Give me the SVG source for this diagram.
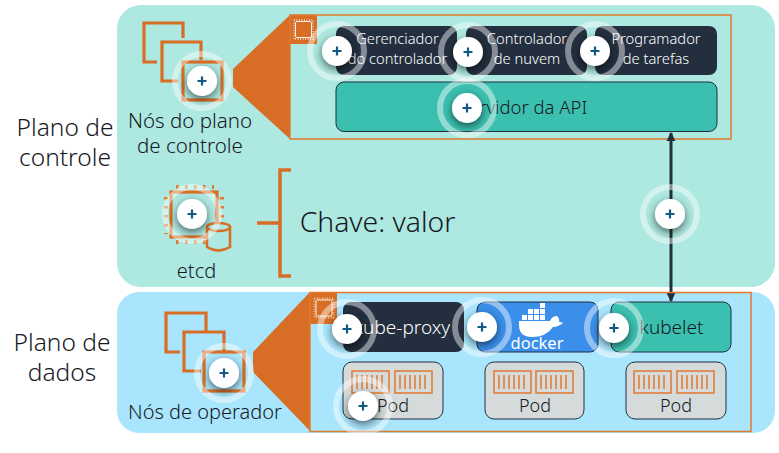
<svg xmlns="http://www.w3.org/2000/svg" xmlns:xlink="http://www.w3.org/1999/xlink" width="779" height="453" viewBox="0 0 779 453">
<style>
text{font-family:"Noto Sans","Open Sans","Liberation Sans",sans-serif;font-weight:300;fill:#16191f;text-anchor:middle}
.w{fill:#fff}
.ic{fill:none;stroke:#d86e26;stroke-width:3.2}
.fr{fill:none;stroke:#e07a2e;stroke-width:1.5}
.or{fill:#d86e26}
.dk{fill:#232f3e}
.tb{fill:#3bc0b0;stroke:#232f3e;stroke-width:1}
.pod{fill:#d5dbdb;stroke:#232f3e;stroke-width:1}
.ct{fill:none;stroke:#e07a2e;stroke-width:1.5}
.cl{fill:none;stroke:#e07a2e;stroke-width:4;stroke-dasharray:2.500 6.500}
.chip{fill:none;stroke:#fff;stroke-opacity:.9;stroke-width:1}
.tick{fill:none;stroke:#fff;stroke-opacity:.75;stroke-width:1.8;stroke-dasharray:.8 1.7}
</style>
<defs>
<filter id="sh" x="-80%" y="-80%" width="260%" height="260%"><feDropShadow dx="0" dy="3" stdDeviation="4" flood-color="#000" flood-opacity=".6"/></filter>
<marker id="ah" viewBox="0 0 10 10" refX="9" refY="5" markerWidth="3" markerHeight="3.200" orient="auto-start-reverse"><path d="M0 0L10 5L0 10Z" fill="#232f3e"/></marker>
<g id="hs">
<circle r="27" fill="none" stroke="#fff" stroke-opacity=".45" stroke-width="6"/>
<circle r="15" fill="#fff" filter="url(#sh)"/>
<path d="M-4.500 0H4.500M0-4.500V4.500" stroke="#0f5a85" stroke-width="2.200"/>
</g>
<g id="chipi">
<rect x="-8" y="-8" width="16" height="16" rx="1.500" class="chip"/>
<rect x="-9.500" y="-9.500" width="19" height="19" class="tick"/>
</g>
<g id="cont">
<rect x="0" y="0" width="37" height="22" class="ct"/>
<path d="M5 4V18M10 4V18M15 4V18M20 4V18M25 4V18M30 4V18" stroke="#e07a2e" stroke-width="1.500"/>
</g>
</defs>

<g id="panels">
<rect x="117" y="5" width="658" height="282" rx="24" fill="#ade8e1"/>
<rect x="117" y="292" width="658" height="141" rx="22" fill="#a9e6fd"/>
</g>

<g id="label-plano-controle"><text x="65" y="136" font-size="24.500">Plano de</text><text x="65" y="166" font-size="24.500">controle</text></g>
<g id="label-plano-dados"><text x="62" y="351" font-size="24.500">Plano de</text><text x="62" y="381" font-size="24.500">dados</text></g>

<g id="zoom-control">
<path class="or" d="M233 69L290 15V139L233 87Z"/>
<rect class="or" x="290" y="15" width="27" height="29"/>
<rect class="fr" x="290" y="15" width="441" height="124"/>
<use xlink:href="#chipi" href="#chipi" x="303.500" y="29.500"/>
</g>

<g id="control-nodes">
<path class="ic" d="M157 62H144V23H183V38"/>
<path class="ic" d="M178 81H162V42H201V60"/>
<rect class="ic" x="183" y="62" width="39" height="38"/>
<text x="190" y="128" font-size="20.500">Nós do plano</text>
<text x="190" y="153" font-size="20.500">de controle</text>
</g>

<g id="etcd">
<rect class="ic" x="171" y="192" width="46" height="45"/>
<path class="cl" d="M176 187H214M176 242H214M166 197V234M222 197V218"/>
<path d="M207 227V247Q218 254 230 247V227Z" fill="#ade8e1" stroke="#d86e26" stroke-width="2.500"/>
<ellipse cx="218.500" cy="227" rx="11.500" ry="4" fill="#ade8e1" stroke="#d86e26" stroke-width="2.500"/>
<text x="196.500" y="278" font-size="20">etcd</text>
</g>

<g id="chave-valor">
<path d="M291 170H280V276H291M257 223H280" fill="none" stroke="#d86e26" stroke-width="3.500"/>
<text x="377.500" y="232" font-size="28.300">Chave: valor</text>
</g>

<g id="gerenciador"><rect class="dk" x="336" y="26" width="121" height="49" rx="8"/><text class="w" x="397.500" y="44" font-size="14.700">Gerenciador</text><text class="w" x="397.500" y="64" font-size="14.700">do controlador</text></g>
<g id="controlador"><rect class="dk" x="466" y="26" width="121" height="49" rx="8"/><text class="w" x="527" y="44" font-size="14.700">Controlador</text><text class="w" x="527" y="64" font-size="14.700">de nuvem</text></g>
<g id="programador"><rect class="dk" x="595" y="26" width="122" height="49" rx="8"/><text class="w" x="656" y="44" font-size="14.700">Programador</text><text class="w" x="656" y="64" font-size="14.700">de tarefas</text></g>
<g id="api"><rect class="tb" x="336" y="82" width="381" height="49.500" rx="8"/><text x="523" y="114" font-size="18.500">Servidor da API</text></g>

<g id="connectors">
<path d="M671 133V301" stroke="#232f3e" stroke-width="3" fill="none" marker-start="url(#ah)" marker-end="url(#ah)"/>
</g>

<g id="zoom-data">
<path class="or" d="M253 352L310 292V431L253 372Z"/>
<rect class="or" x="310" y="292" width="27" height="32"/>
<rect class="fr" x="310" y="292.500" width="441" height="139"/>
<use xlink:href="#chipi" href="#chipi" x="324" y="308"/>
</g>

<g id="worker-nodes">
<path class="ic" d="M180 352H166V313H206V333"/>
<path class="ic" d="M201 371H184V332H224V352"/>
<rect class="ic" x="204" y="352" width="40" height="39"/>
<text x="205" y="419" font-size="20">Nós de operador</text>
</g>

<g id="kube-proxy"><rect class="dk" x="343" y="302" width="121" height="50" rx="8"/><text class="w" x="402" y="334" font-size="19">kube-proxy</text></g>
<g id="docker"><rect x="477" y="302" width="121" height="50" rx="8" fill="#3b8fea" stroke="#232f3e" stroke-width="1"/>
<path class="w" d="M519 321H550Q552 316 557 316Q560 319 559 322Q562 322 563 323Q558 327 553 327Q546 337 532 337Q519 337 519 325Z"/>
<path class="w" d="M522 315h5v5h-5zM528 315h5v5h-5zM534 315h5v5h-5zM540 315h5v5h-5zM528 309h5v5h-5zM534 309h5v5h-5zM540 309h5v5h-5zM540 303h5v5h-5z"/>
<text class="w" x="537" y="349" font-size="16.500" style="font-weight:400">docker</text></g>
<g id="kubelet"><rect class="tb" x="611" y="302" width="120" height="50" rx="8"/><text x="671.500" y="334" font-size="19">kubelet</text></g>

<g id="pod1"><rect class="pod" x="343" y="362" width="100" height="57" rx="9"/><use xlink:href="#cont" href="#cont" x="352" y="371"/><use xlink:href="#cont" href="#cont" x="395" y="371"/><text x="393" y="412" font-size="18">Pod</text></g>
<g id="pod2"><rect class="pod" x="485" y="362" width="99" height="57" rx="9"/><use xlink:href="#cont" href="#cont" x="494" y="371"/><use xlink:href="#cont" href="#cont" x="536" y="371"/><text x="535" y="412" font-size="18">Pod</text></g>
<g id="pod3"><rect class="pod" x="626" y="362" width="100" height="57" rx="9"/><use xlink:href="#cont" href="#cont" x="634" y="371"/><use xlink:href="#cont" href="#cont" x="677" y="371"/><text x="676" y="412" font-size="18">Pod</text></g>

<g id="hotspots">
<use xlink:href="#hs" href="#hs" x="202" y="81"/>
<use xlink:href="#hs" href="#hs" x="337" y="51"/>
<use xlink:href="#hs" href="#hs" x="468" y="52"/>
<use xlink:href="#hs" href="#hs" x="595" y="51"/>
<use xlink:href="#hs" href="#hs" x="467" y="108"/>
<use xlink:href="#hs" href="#hs" x="192" y="214"/>
<use xlink:href="#hs" href="#hs" x="670" y="214"/>
<use xlink:href="#hs" href="#hs" x="224" y="373"/>
<use xlink:href="#hs" href="#hs" x="347" y="329"/>
<use xlink:href="#hs" href="#hs" x="482" y="327"/>
<use xlink:href="#hs" href="#hs" x="614" y="328"/>
<use xlink:href="#hs" href="#hs" x="363" y="406"/>
</g>
</svg>
